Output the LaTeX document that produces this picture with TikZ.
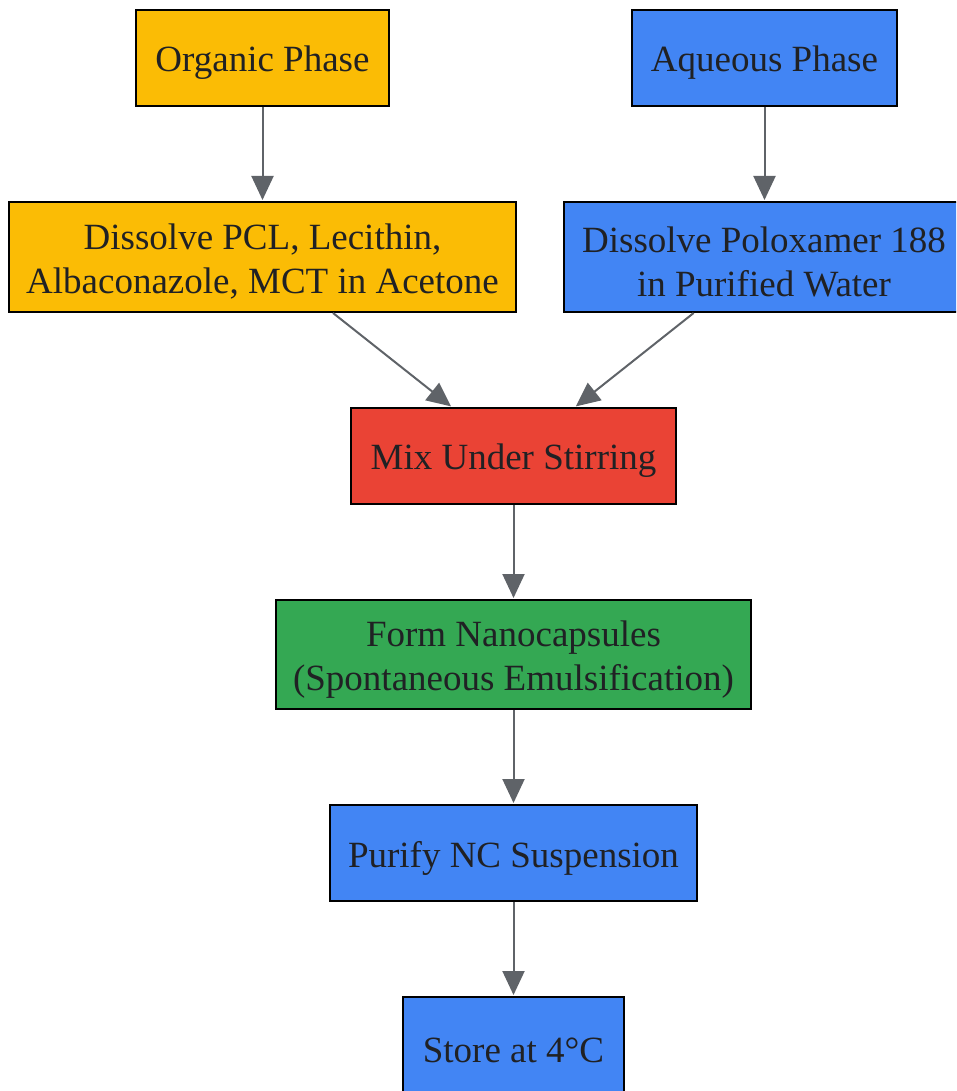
\documentclass[tikz,border=0pt]{standalone}
\usepackage{fontspec}
\setmainfont{Liberation Serif}
\usetikzlibrary{arrows.meta}
\definecolor{cyellow}{HTML}{FBBC05}
\definecolor{cblue}{HTML}{4285F4}
\definecolor{cred}{HTML}{EA4335}
\definecolor{cgreen}{HTML}{34A853}
\definecolor{ctext}{HTML}{202124}
\definecolor{cedge}{HTML}{5F6368}
\tikzset{
  box/.style={draw=black, line width=2pt, inner sep=0pt},
  lbl/.style={text=ctext, align=center, inner sep=0pt, yshift=-5pt,
    font=\fontsize{37}{44}\selectfont},
  conn/.style={draw=cedge, line width=2pt, -{Triangle[length=24pt,width=22pt]}, shorten >=1pt}
}
\begin{document}
\begin{tikzpicture}[x=1pt,y=-1pt]
\useasboundingbox (0,0) rectangle (956,1091);
\clip (0,0) rectangle (956,1091);
\node[box, fill=cyellow, minimum width=253pt, minimum height=96pt,
  label={[lbl]center:{Organic Phase}}] (org) at (262.5,58) {};
\node[box, fill=cblue, minimum width=265pt, minimum height=96pt,
  label={[lbl]center:{Aqueous Phase}}] (aq) at (764.5,58) {};
\node[box, fill=cyellow, minimum width=507pt, minimum height=110pt,
  label={[lbl]center:{Dissolve PCL, Lecithin,\\Albaconazole, MCT in Acetone}}] (pcl) at (262.5,257) {};
\node[box, fill=cblue, minimum width=400pt, minimum height=110pt,
  label={[lbl]center:{Dissolve Poloxamer 188\\in Purified Water}}] (plx) at (764,257) {};
\node[box, fill=cred, minimum width=325pt, minimum height=96pt,
  label={[lbl]center:{Mix Under Stirring}}] (mix) at (513.5,456) {};
\node[box, fill=cgreen, minimum width=475pt, minimum height=109pt,
  label={[lbl]center:{Form Nanocapsules\\(Spontaneous Emulsification)}}] (form) at (513.5,654.5) {};
\node[box, fill=cblue, minimum width=367pt, minimum height=96pt,
  label={[lbl]center:{Purify NC Suspension}}] (pur) at (513.5,853) {};
\node[box, fill=cblue, minimum width=221pt, minimum height=96pt,
  label={[lbl]center:{Store at 4°C}}] (store) at (513.5,1045) {};
\draw[conn] (org) -- (pcl);
\draw[conn] (aq) -- (aq |- plx.north);
\draw[conn] (pcl) -- (mix);
\draw[conn] (plx) -- (mix);
\draw[conn] (mix) -- (form);
\draw[conn] (form) -- (pur);
\draw[conn] (pur) -- (store);
\end{tikzpicture}
\end{document}
